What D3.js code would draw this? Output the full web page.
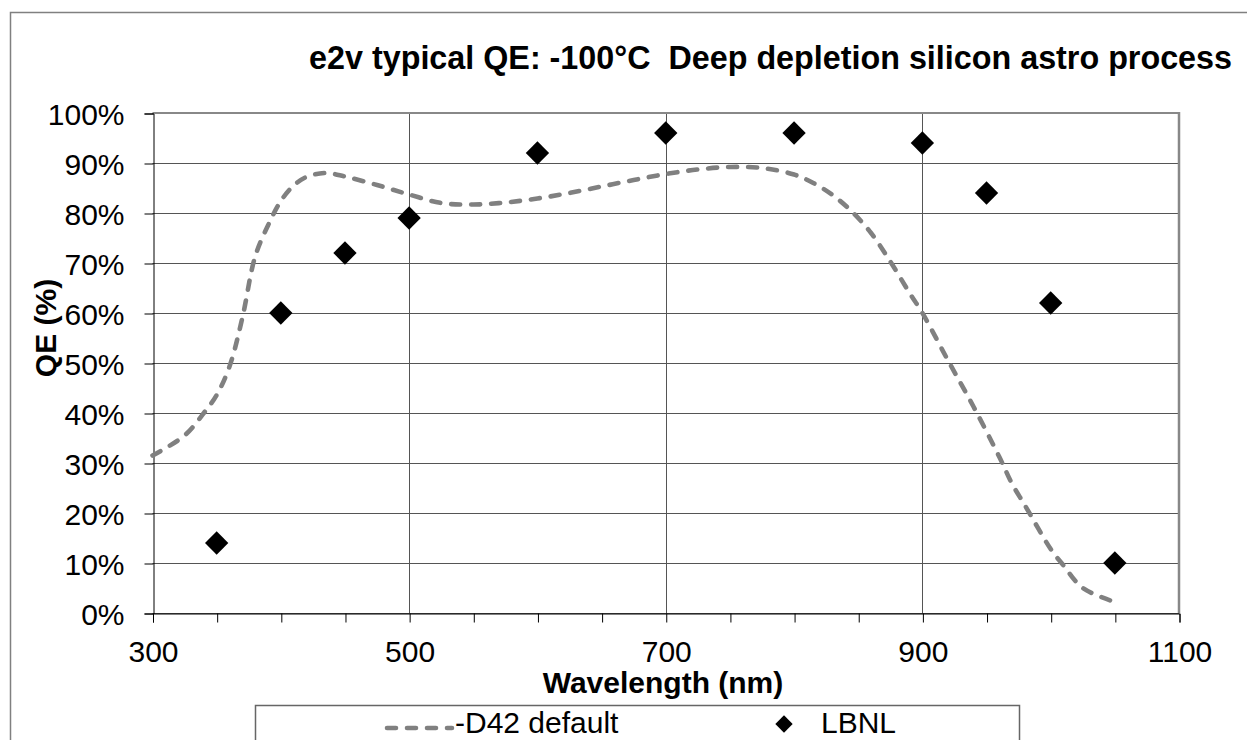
<!DOCTYPE html>
<html>
<head>
<meta charset="utf-8">
<script src="https://cdn.jsdelivr.net/npm/d3@7"></script>
<style>
  html, body { margin: 0; padding: 0; background: #fff; }
  svg { display: block; font-family: Arial, "Liberation Sans", sans-serif; }
</style>
</head>
<body>
<svg id="chart" width="1247" height="740"></svg>
<script>
// ---- data ----
const chartTitle = "e2v typical QE: -100°C  Deep depletion silicon astro process";
const xAxisTitle = "Wavelength (nm)";
const yAxisTitle = "QE (%)";
const seriesNames = ["-D42 default", "LBNL"];

const d42Wavelength = [300, 325, 340, 350, 360, 370, 380, 390, 400, 410, 420, 435, 450, 475, 500, 525, 550, 575, 600, 625, 650, 675, 700, 725, 750, 775, 800, 815, 830, 845, 860, 875, 890, 900, 920, 940, 960, 970, 980, 1000, 1010, 1025, 1050];
const d42QE = [0.315, 0.355, 0.40, 0.436, 0.493, 0.59, 0.713, 0.775, 0.824, 0.855, 0.872, 0.880, 0.873, 0.856, 0.837, 0.820, 0.817, 0.821, 0.829, 0.840, 0.853, 0.866, 0.878, 0.887, 0.892, 0.890, 0.877, 0.860, 0.836, 0.803, 0.760, 0.703, 0.640, 0.600, 0.505, 0.412, 0.312, 0.258, 0.215, 0.128, 0.095, 0.050, 0.022];

const lbnlWavelength = [350, 400, 450, 500, 600, 700, 800, 900, 950, 1000, 1050];
const lbnlQE = [0.14, 0.60, 0.72, 0.79, 0.92, 0.96, 0.96, 0.94, 0.84, 0.62, 0.10];

const xMajorTicks = [300, 500, 700, 900, 1100];
const xMinorTicks = [350, 400, 450, 550, 600, 650, 750, 800, 850, 950, 1000, 1050];
const yTicks = [0, 0.1, 0.2, 0.3, 0.4, 0.5, 0.6, 0.7, 0.8, 0.9, 1.0];

// ---- layout ----
const svg = d3.select("#chart");
const x = d3.scaleLinear().domain([300, 1100]).range([152.5, 1179]);
const y = d3.scaleLinear().domain([0, 1]).range([613, 113]);

// outer chart border
svg.append("rect")
  .attr("x", 10.5).attr("y", 12.5).attr("width", 1250).attr("height", 760)
  .attr("fill", "none").attr("stroke", "#808080").attr("stroke-width", 1.5);

// horizontal gridlines
svg.append("g").selectAll("line").data(yTicks).join("line")
  .attr("x1", x(300)).attr("x2", x(1100))
  .attr("y1", d => Math.round(y(d)) + 0.5).attr("y2", d => Math.round(y(d)) + 0.5)
  .attr("stroke", "#555").attr("stroke-width", 1);

// vertical gridlines at major ticks
svg.append("g").selectAll("line").data(xMajorTicks.slice(1, -1)).join("line")
  .attr("x1", d => Math.round(x(d)) + 0.5).attr("x2", d => Math.round(x(d)) + 0.5)
  .attr("y1", y(1)).attr("y2", y(0))
  .attr("stroke", "#555").attr("stroke-width", 1);

// plot area border (top & right gray)
svg.append("line").attr("x1", x(300)).attr("x2", x(1100)).attr("y1", y(1)).attr("y2", y(1))
  .attr("stroke", "#888").attr("stroke-width", 2);
svg.append("line").attr("x1", x(1100)).attr("x2", x(1100)).attr("y1", y(1) - 1).attr("y2", y(0))
  .attr("stroke", "#888").attr("stroke-width", 2.5);

// y axis
const yAxis = d3.axisLeft(y).tickValues(yTicks).tickSize(9).tickPadding(20)
  .tickFormat(d3.format(".0%"));
const gy = svg.append("g").attr("transform", `translate(${Math.round(x(300)) + 0.5},0.5)`).call(yAxis);
gy.select(".domain").attr("stroke", "#000");
gy.selectAll(".tick line").attr("stroke", "#000");
gy.selectAll(".tick text").attr("font-size", 30).attr("fill", "#000")
  .attr("font-family", "Arial, 'Liberation Sans', sans-serif").attr("dy", "0.35em");

// x axis
const xAxis = d3.axisBottom(x).tickValues(xMajorTicks).tickSize(9).tickPadding(18)
  .tickFormat(d3.format("d"));
const gx = svg.append("g").attr("transform", `translate(0.5,${Math.round(y(0)) + 0.5})`).call(xAxis);
gx.select(".domain").attr("stroke", "#000");
gx.selectAll(".tick line").attr("stroke", "#000");
gx.selectAll(".tick text").attr("font-size", 30).attr("fill", "#000")
  .attr("font-family", "Arial, 'Liberation Sans', sans-serif");
// minor ticks
const xAxisMinor = d3.axisBottom(x).tickValues(xMinorTicks).tickSize(9).tickFormat("");
const gxm = svg.append("g").attr("transform", `translate(0.5,${Math.round(y(0)) + 0.5})`).call(xAxisMinor);
gxm.select(".domain").remove();
gxm.selectAll(".tick line").attr("stroke", "#000");

// D42 curve
const d42 = d42Wavelength.map((w, i) => [w, d42QE[i]]);
const line = d3.line().x(d => x(d[0])).y(d => y(d[1])).curve(d3.curveCatmullRom.alpha(0.5));
svg.append("path").datum(d42)
  .attr("d", line)
  .attr("fill", "none").attr("stroke", "#808080").attr("stroke-width", 4.6)
  .attr("stroke-dasharray", "9,11").attr("stroke-linecap", "round");

// LBNL diamonds
const diamond = d3.symbol().type(d3.symbolSquare).size(272);
svg.append("g").selectAll("path").data(lbnlWavelength.map((w, i) => [w, lbnlQE[i]])).join("path")
  .attr("d", diamond)
  .attr("transform", d => `translate(${x(d[0])},${y(d[1])}) rotate(45)`)
  .attr("fill", "#000");

// title
svg.append("text")
  .attr("x", 1232).attr("y", 69).attr("text-anchor", "end")
  .style("white-space", "pre")
  .attr("font-size", 32.3).attr("font-weight", "bold").attr("fill", "#000")
  .text(chartTitle);

// x axis title
svg.append("text")
  .attr("x", 663).attr("y", 693).attr("text-anchor", "middle")
  .attr("font-size", 30).attr("font-weight", "bold").attr("fill", "#000")
  .text(xAxisTitle);

// y axis title
svg.append("text")
  .attr("transform", "translate(56,328) rotate(-90)")
  .attr("text-anchor", "middle")
  .attr("font-size", 30).attr("font-weight", "bold").attr("fill", "#000")
  .text(yAxisTitle);

// legend
const lg = svg.append("g");
lg.append("rect").attr("x", 255.5).attr("y", 705.5).attr("width", 764).attr("height", 60)
  .attr("fill", "#fff").attr("stroke", "#666").attr("stroke-width", 1.5);
lg.append("line").attr("x1", 387).attr("x2", 452).attr("y1", 728).attr("y2", 728)
  .attr("stroke", "#808080").attr("stroke-width", 4.6)
  .attr("stroke-dasharray", "9,11").attr("stroke-linecap", "round");
lg.append("text").attr("x", 455).attr("y", 733).attr("font-size", 30).attr("fill", "#000")
  .text(seriesNames[0]);
lg.append("path").attr("d", d3.symbol().type(d3.symbolSquare).size(150)())
  .attr("transform", "translate(784,724) rotate(45)").attr("fill", "#000");
lg.append("text").attr("x", 821).attr("y", 733).attr("font-size", 30).attr("fill", "#000")
  .text(seriesNames[1]);
</script>
</body>
</html>
